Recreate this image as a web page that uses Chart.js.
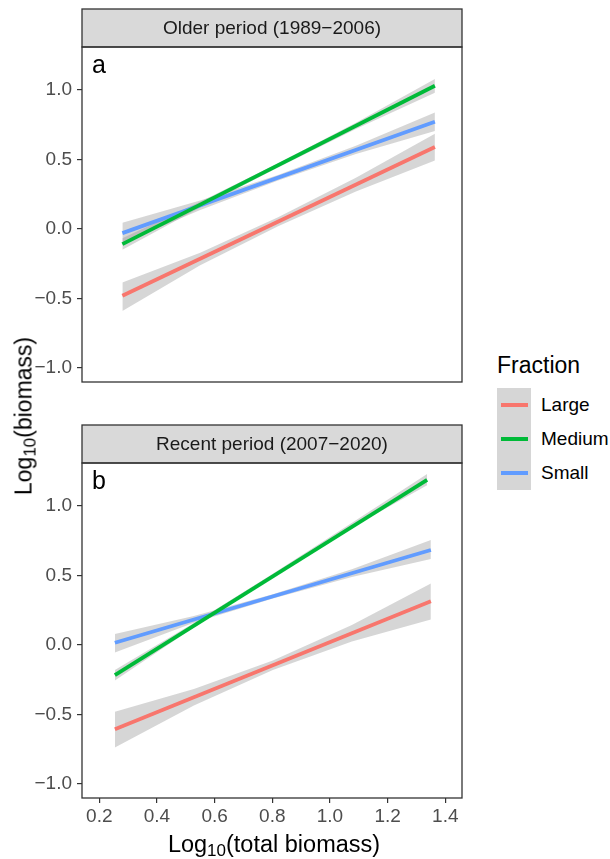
<!DOCTYPE html>
<html>
<head>
<meta charset="utf-8">
<script src="https://cdn.jsdelivr.net/npm/chart.js@4.4.1/dist/chart.umd.min.js"></script>
<style>
  body { margin: 0; background: #fff; font-family: "Liberation Sans", Arial, sans-serif; }
  #wrap { position: relative; width: 610px; height: 859px; overflow: hidden; }
  canvas { position: absolute; left: 0; }
  #olderChart { top: 0; }
  #recentChart { top: 400px; }
  .ytitle { position: absolute; left: 24px; top: 416px; transform: translate(-50%, -50%) rotate(-90deg);
            font-size: 23px; white-space: nowrap; color: #000; }
  .xtitle { position: absolute; left: 274px; top: 844px; transform: translate(-50%, -50%);
            font-size: 23.5px; white-space: nowrap; color: #000; }
  sub { font-size: 17px; vertical-align: -4px; line-height: 0; }
  #legend { position: absolute; left: 497px; top: 352px; }
  #legend .ltitle { font-size: 23px; color: #000; height: 36px; }
  #legend .row { position: relative; height: 34px; }
  #legend .key { position: absolute; left: 0; top: 0; width: 34px; height: 34px; background: #D6D6D6; }
  #legend .key span { position: absolute; left: 4px; top: 15px; width: 27px; height: 4px; }
  #legend .lab { position: absolute; left: 44px; top: 6px; font-size: 19px; color: #000; }
</style>
</head>
<body>
<div id="wrap">
  <canvas id="olderChart" width="470" height="400"></canvas>
  <canvas id="recentChart" width="470" height="440"></canvas>
  <div class="ytitle">Log<sub>10</sub>(biomass)</div>
  <div class="xtitle">Log<sub>10</sub>(total biomass)</div>
  <div id="legend"></div>
</div>
<script>
// === Data ===
const fractions = ['Large', 'Medium', 'Small'];
const colours = ['#F8766D', '#00BA38', '#619CFF'];
const xTicks = [0.2, 0.4, 0.6, 0.8, 1.0, 1.2, 1.4];
const yTicks = [-1.0, -0.5, 0.0, 0.5, 1.0];

// Older period (1989-2006): fitted line end points
const olderFitX = [0.28, 1.364];
const olderLarge = [-0.48, 0.59];
const olderMedium = [-0.108, 1.031];
const olderSmall = [-0.029, 0.772];
// confidence bands
const olderBandX = [0.28, 0.55, 0.82, 1.09, 1.364];
const olderLargeLo = [-0.59, -0.26, 0.02, 0.27, 0.494];
const olderLargeHi = [-0.385, -0.17, 0.085, 0.37, 0.686];
const olderMediumLo = [-0.148, 0.155, 0.444, 0.72, 0.98];
const olderMediumHi = [-0.065, 0.197, 0.474, 0.765, 1.08];
const olderSmallLo = [-0.10, 0.137, 0.35, 0.54, 0.705];
const olderSmallHi = [0.045, 0.205, 0.39, 0.60, 0.838];

// Recent period (2007-2020)
const recentFitX = [0.254, 1.35];
const recentMediumFitX = [0.254, 1.337];
const recentLarge = [-0.605, 0.315];
const recentMedium = [-0.216, 1.189];
const recentSmall = [0.017, 0.684];
const recentBandX = [0.254, 0.528, 0.802, 1.076, 1.35];
const recentMediumBandX = [0.254, 0.525, 0.795, 1.066, 1.337];
const recentLargeLo = [-0.737, -0.435, -0.18, 0.025, 0.185];
const recentLargeHi = [-0.48, -0.315, -0.11, 0.145, 0.444];
const recentMediumLo = [-0.255, 0.123, 0.485, 0.835, 1.15];
const recentMediumHi = [-0.18, 0.155, 0.505, 0.865, 1.23];
const recentSmallLo = [-0.053, 0.16, 0.335, 0.49, 0.62];
const recentSmallHi = [0.08, 0.21, 0.365, 0.545, 0.756];

const FONT = '"Liberation Sans", Arial, sans-serif';
const pts = (xs, ys) => xs.map((x, i) => ({ x: x, y: ys[i] }));

function buildDatasets(series) {
    const lines = [];
    const bands = [];
    series.forEach((s, i) => {
        lines.push({
            label: fractions[i], data: pts(s.fitX, s.fit), borderColor: colours[i],
            borderWidth: 3.8, pointRadius: 0, fill: false, order: 0, borderCapStyle: 'butt'
        });
        // lower edge first, upper edge fills down to it ('-1')
        bands.push({
            label: fractions[i] + ' lo', data: pts(s.bandX, s.lo), borderWidth: 0,
            pointRadius: 0, fill: false, order: 1
        });
        bands.push({
            label: fractions[i] + ' hi', data: pts(s.bandX, s.hi), borderWidth: 0,
            pointRadius: 0, fill: '-1', backgroundColor: 'rgba(153,153,153,0.4)', order: 1
        });
    });
    return bands.concat(lines);
}

// draws panel border, facet strip and panel tag
const facetPlugin = {
    id: 'facet',
    afterDraw(chart, args, opts) {
        const { ctx, chartArea: a } = chart;
        ctx.save();
        const stripH = 38;
        ctx.fillStyle = '#D9D9D9';
        ctx.fillRect(a.left, a.top - stripH, a.right - a.left, stripH);
        ctx.strokeStyle = '#333333';
        ctx.lineWidth = 1.3;
        ctx.strokeRect(a.left, a.top - stripH, a.right - a.left, stripH);
        ctx.strokeRect(a.left, a.top, a.right - a.left, a.bottom - a.top);
        ctx.fillStyle = '#1A1A1A';
        ctx.font = '19px ' + FONT;
        ctx.textAlign = 'center';
        ctx.textBaseline = 'middle';
        ctx.fillText(opts.title, (a.left + a.right) / 2, a.top - stripH / 2 + 1);
        ctx.fillStyle = '#000';
        ctx.font = '25px ' + FONT;
        ctx.textAlign = 'left';
        ctx.textBaseline = 'alphabetic';
        ctx.fillText(opts.tag, a.left + 10, a.top + 26);
        ctx.restore();
    }
};

function makeChart(id, series, title, tag, showX) {
    new Chart(document.getElementById(id), {
        type: 'line',
        data: { datasets: buildDatasets(series) },
        plugins: [facetPlugin],
        options: {
            responsive: false,
            animation: false,
            layout: { padding: showX ? { top: 63, right: 8, bottom: 0, left: 0 } : { top: 47, right: 8, bottom: 18, left: 0 } },
            plugins: {
                legend: { display: false },
                tooltip: { enabled: false },
                facet: { title: title, tag: tag }
            },
            scales: {
                x: {
                    type: 'linear', min: 0.14, max: 1.458, display: showX,
                    afterBuildTicks: s => { s.ticks = xTicks.map(v => ({ value: v })); },
                    afterFit: s => { if (showX) s.height = 42; },
                    border: { display: false },
                    grid: { drawOnChartArea: false, drawTicks: true, tickLength: 5, color: '#333333', lineWidth: 1.2 },
                    ticks: { font: { family: FONT, size: 19 }, color: '#4D4D4D', padding: 2, maxRotation: 0,
                             callback: v => v.toFixed(1) }
                },
                y: {
                    type: 'linear', min: -1.1, max: 1.31,
                    afterBuildTicks: s => { s.ticks = yTicks.map(v => ({ value: v })); },
                    afterFit: s => { s.width = 82; },
                    border: { display: false },
                    grid: { drawOnChartArea: false, drawTicks: true, tickLength: 5, color: '#333333', lineWidth: 1.2 },
                    ticks: { font: { family: FONT, size: 19 }, color: '#4D4D4D', padding: 5,
                             callback: v => v.toFixed(1).replace('-', '\u2212') }
                }
            }
        }
    });
}

makeChart('olderChart', [
    { fitX: olderFitX, fit: olderLarge, bandX: olderBandX, lo: olderLargeLo, hi: olderLargeHi },
    { fitX: olderFitX, fit: olderMedium, bandX: olderBandX, lo: olderMediumLo, hi: olderMediumHi },
    { fitX: olderFitX, fit: olderSmall, bandX: olderBandX, lo: olderSmallLo, hi: olderSmallHi }
], 'Older period (1989\u22122006)', 'a', false);

makeChart('recentChart', [
    { fitX: recentFitX, fit: recentLarge, bandX: recentBandX, lo: recentLargeLo, hi: recentLargeHi },
    { fitX: recentMediumFitX, fit: recentMedium, bandX: recentMediumBandX, lo: recentMediumLo, hi: recentMediumHi },
    { fitX: recentFitX, fit: recentSmall, bandX: recentBandX, lo: recentSmallLo, hi: recentSmallHi }
], 'Recent period (2007\u22122020)', 'b', true);

// === Legend ===
const legend = document.getElementById('legend');
legend.innerHTML = '<div class="ltitle">Fraction</div>' + fractions.map((f, i) =>
    `<div class="row"><div class="key"><span style="background:${colours[i]}"></span></div><div class="lab">${f}</div></div>`
).join('');
</script>
</body>
</html>
